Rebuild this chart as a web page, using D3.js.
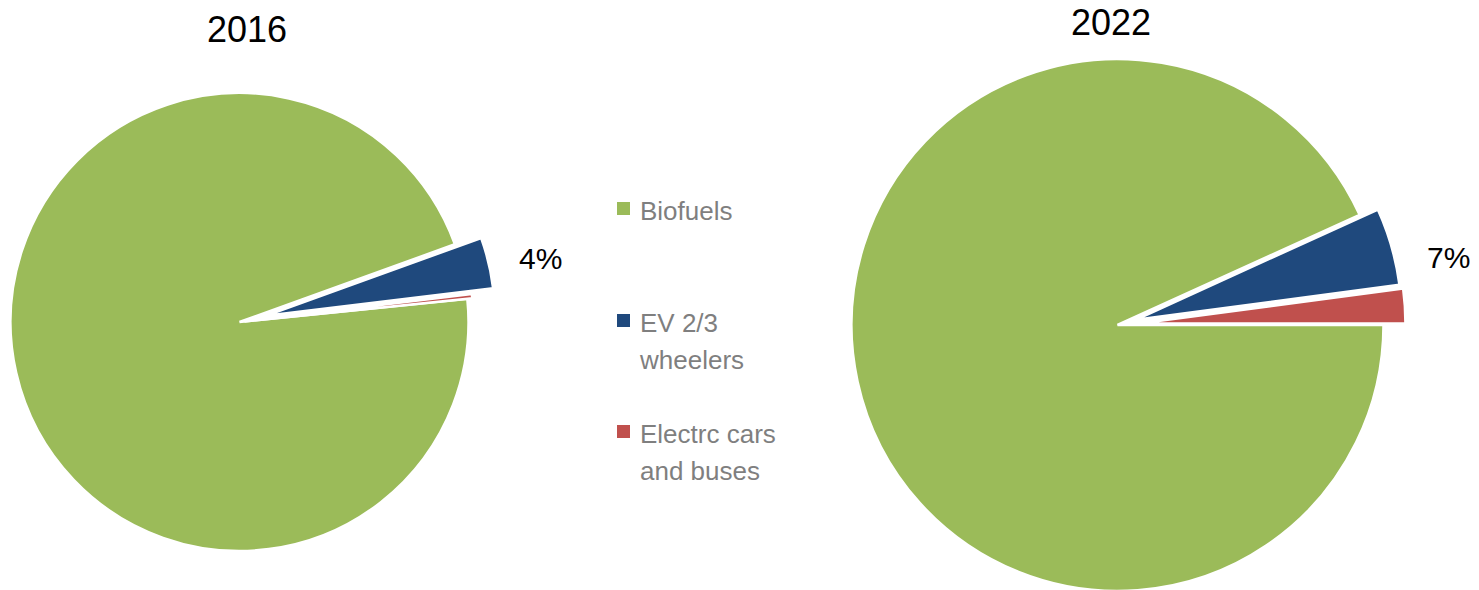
<!DOCTYPE html>
<html>
<head>
<meta charset="utf-8">
<script src="https://cdn.jsdelivr.net/npm/d3@7"></script>
<style>
  body { margin: 0; background: #fff; }
  text { font-family: "Liberation Sans", Arial, sans-serif; }
</style>
</head>
<body>
<div id="chart"></div>
<script>
// data
var categories = ["Biofuels", "EV 2/3 wheelers", "Electrc cars and buses"];
var legendLines = [["Biofuels"], ["EV 2/3", "wheelers"], ["Electrc cars", "and buses"]];
var colors = ["#9BBB59", "#1F497D", "#C0504D"];
var years = ["2016", "2022"];
var shares2016 = [96.1, 3.6, 0.3];
var shares2022 = [93.2, 4.7, 2.1];
var pctLabels = ["4%", "7%"];

var width = 1479, height = 590;

var svg = d3.select("#chart")
    .append("svg")
    .attr("width", width)
    .attr("height", height);

// layout for the two pies
var pies = [
    {year: years[0], values: shares2016, label: pctLabels[0], cx: 239.5, cy: 322, r: 229,
     start: 84.2, explode: [0, 27, 5], titleX: 247, titleY: 41.5, labelX: 519, labelY: 269},
    {year: years[1], values: shares2022, label: pctLabels[1], cx: 1117.5, cy: 325, r: 266,
     start: 90, explode: [0, 19, 22], titleX: 1111, titleY: 35, labelX: 1427, labelY: 268}
];

var color = d3.scaleOrdinal().domain(categories).range(colors);

pies.forEach(function(p) {
    var pie = d3.pie()
        .sort(null)
        .startAngle(p.start * Math.PI / 180)
        .endAngle(p.start * Math.PI / 180 + 2 * Math.PI)
        .value(function(d) { return d; });

    var arc = d3.arc().innerRadius(0).outerRadius(p.r);

    var g = svg.append("g")
        .attr("transform", "translate(" + p.cx + "," + p.cy + ")");

    g.selectAll("path")
        .data(pie(p.values))
        .enter()
        .append("path")
        .attr("d", arc)
        .attr("transform", function(d, i) {
            var mid = (d.startAngle + d.endAngle) / 2;
            var off = p.explode[i];
            return "translate(" + (off * Math.sin(mid)) + "," + (-off * Math.cos(mid)) + ")";
        })
        .attr("fill", function(d, i) { return color(categories[i]); })
        .attr("stroke", "#fff")
        .attr("stroke-width", 2.5)
        .attr("stroke-linejoin", "miter");

    svg.append("text")
        .attr("x", p.titleX)
        .attr("y", p.titleY)
        .attr("text-anchor", "middle")
        .attr("font-size", 36)
        .attr("fill", "#000")
        .text(p.year);

    svg.append("text")
        .attr("x", p.labelX)
        .attr("y", p.labelY)
        .attr("font-size", 30)
        .attr("fill", "#000")
        .text(p.label);
});

// legend
var legendTops = [202, 314, 425];
var legend = svg.append("g");
categories.forEach(function(c, i) {
    legend.append("rect")
        .attr("x", 617)
        .attr("y", legendTops[i])
        .attr("width", 13)
        .attr("height", 13)
        .attr("fill", color(c));
    var t = legend.append("text")
        .attr("x", 640)
        .attr("y", legendTops[i] + 18)
        .attr("font-size", 26)
        .attr("fill", "#7F7F7F");
    legendLines[i].forEach(function(line, j) {
        t.append("tspan")
            .attr("x", 640)
            .attr("dy", j == 0 ? 0 : 36.5)
            .text(line);
    });
});
</script>
</body>
</html>
